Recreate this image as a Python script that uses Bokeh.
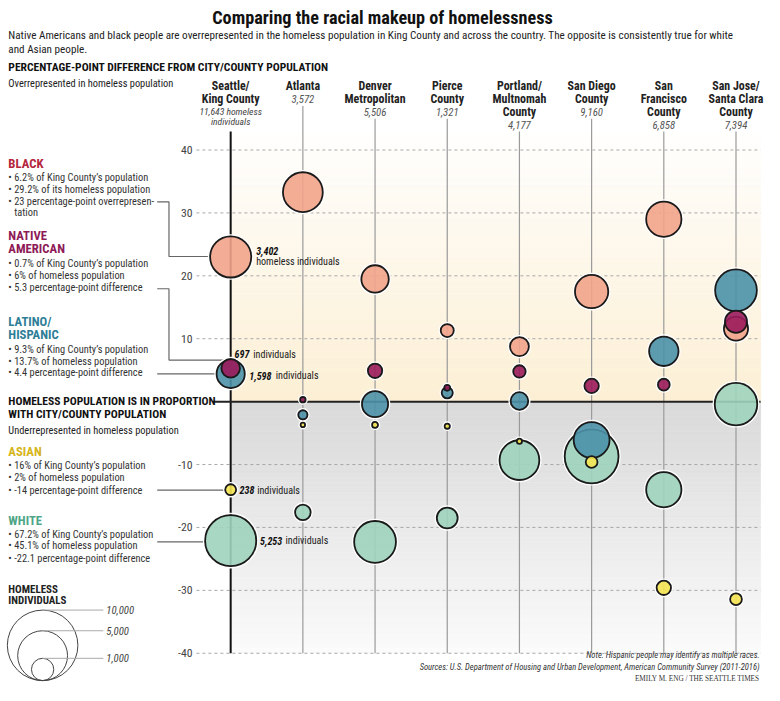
import numpy as np
from bokeh.plotting import figure
from bokeh.models import Range1d, ColumnDataSource
from bokeh.core.properties import value
from bokeh.embed import file_html
from bokeh.resources import INLINE

# ---------------- data ----------------
city_lines = [["Seattle/", "King County"], ["Atlanta"], ["Denver", "Metropolitan"],
              ["Pierce", "County"], ["Portland/", "Multnomah", "County"],
              ["San Diego", "County"], ["San", "Francisco", "County"],
              ["San Jose/", "Santa Clara", "County"]]
city_totals = ["11,643", "3,572", "5,506", "1,321", "4,177", "9,160", "6,858", "7,394"]

race_names = ["Black", "Native American", "Latino/Hispanic", "Asian", "White"]
race_colors = ["#F2A48B", "#9A1B5B", "#4B91A9", "#F6E653", "#9ED3BD"]
black_diff = [23.0, 33.3, 19.5, 11.3, 8.75, 17.5, 29.0, 11.6]
black_n = [3402, 3190, 1510, 340, 720, 2230, 2500, 1170]
native_diff = [5.3, 0.3, 4.9, 2.2, 4.8, 2.5, 2.7, 12.7]
native_n = [697, 60, 415, 70, 310, 415, 278, 985]
latino_diff = [4.4, -2.1, -0.4, 1.4, 0.1, -6.1, 8.0, 17.7]
latino_n = [1598, 170, 1370, 247, 625, 2590, 1736, 3500]
asian_diff = [-14.0, -3.7, -3.7, -3.9, -6.3, -9.6, -29.6, -31.4]
asian_n = [238, 40, 70, 55, 55, 278, 415, 278]
white_diff = [-22.1, -17.6, -22.3, -18.5, -9.3, -8.7, -14.0, -0.4]
white_n = [5253, 490, 3510, 877, 3180, 5830, 2500, 3630]

y_ticks = [40, 30, 20, 10, -10, -20, -30, -40]
y_tick_labels = ["40", "30", "20", "10", "-10", "-20", "-30", "-40"]
legend_counts = [10000, 5000, 1000]
legend_labels = ["10,000", "5,000", "1,000"]

# ---------------- style ----------------
F = "Roboto Condensed"
W, H = 764, 685
REF_W, REF_H = 780.0, 701.0
SX = W / REF_W
R10K = 36.0 * SX  # screen radius of a 10,000 bubble

# vertical scale of the chart: 0 at layout y=410.5, 6.4375 layout px per point
Y0, PPU = 410.5, 6.4375
X0, DX = 235.0, 73.7

p = figure(width=W, height=H, output_backend="svg", toolbar_location=None,
           x_range=Range1d(0, REF_W),
           y_range=Range1d((Y0 - REF_H) / PPU, Y0 / PPU),
           x_axis_type=None, y_axis_type=None, min_border=0,
           outline_line_color=None, background_fill_color="white",
           border_fill_color="white")
p.extra_x_ranges = {"col": Range1d(-X0 / DX, (REF_W - X0) / DX)}
p.extra_y_ranges = {"px": Range1d(REF_H, 0)}


def txt(xs, ys, texts, size, color="#222222", style="normal", font=F,
        align="left", baseline="middle", xr=None, yr="px"):
    kw = {}
    if xr:
        kw["x_range_name"] = xr
    if yr:
        kw["y_range_name"] = yr
    p.text(x=xs, y=ys, text=texts, text_font=value(font),
           text_font_size=value(f"{size * SX:.2f}px"), text_font_style=style,
           text_color=color, text_align=align, text_baseline=baseline, **kw)


# ---------------- background gradients ----------------
n = 50
top_edges = np.linspace(0, 44, n + 1)
cream = np.array([252, 239, 212]); white = np.array([255, 255, 255])
cols = []
for k in range(n):
    t = (k + 0.5) / n
    c = cream + (white - cream) * t
    cols.append("#%02x%02x%02x" % tuple(int(round(v)) for v in c))
p.quad(left=X0, right=776, bottom=top_edges[:-1], top=top_edges[1:],
       fill_color=cols, line_color=cols, line_width=0.6)
bot_edges = np.linspace(0, -40, n + 1)
grey = np.array([217, 217, 217]); light = np.array([251, 251, 251])
cols2 = []
for k in range(n):
    t = (k + 0.5) / n
    c = grey + (light - grey) * t
    cols2.append("#%02x%02x%02x" % tuple(int(round(v)) for v in c))
p.quad(left=X0, right=776, bottom=bot_edges[1:], top=bot_edges[:-1],
       fill_color=cols2, line_color=cols2, line_width=0.6)

# ---------------- grid ----------------
p.segment(x0=[200] * len(y_ticks), x1=[776] * len(y_ticks), y0=y_ticks, y1=y_ticks,
          line_color="#a8a8a8", line_width=1, line_dash="3 3")
txt([196] * len(y_ticks), y_ticks, y_tick_labels, 12, color="#444444",
    align="right", yr=None)

# column lines
idx = list(range(len(city_lines)))
tops = [134] + [82 + 13 * (len(c) + 1) for c in city_lines[1:]]
p.segment(x0=idx[1:], x1=idx[1:], y0=tops[1:], y1=[668] * 7, line_color="#9a9a9a",
          line_width=1.2, x_range_name="col", y_range_name="px")
p.segment(x0=[0], x1=[0], y0=[tops[0]], y1=[668], line_color="#111111",
          line_width=2, x_range_name="col", y_range_name="px")

# zero line
p.segment(x0=[217], x1=[776], y0=[0], y1=[0], line_color="#222222", line_width=2)

# connectors
p.multi_line(xs=[[160, 172, 172, 213], [160, 172, 172, 229], [160, 220],
                 [160, 229], [160, 209]],
             ys=[[206, 206, 262, 262], [295, 295, 368, 368], [382, 382],
                 [501, 501], [554, 554]],
             line_color="#666666", line_width=1.2, y_range_name="px")

# ---------------- bubbles ----------------
diffs = [black_diff, native_diff, latino_diff, asian_diff, white_diff]
counts = [black_n, native_n, latino_n, asian_n, white_n]
bx, by, bs, bc = [], [], [], []
for r in range(5):
    for i in range(8):
        bx.append(i); by.append(diffs[r][i])
        bs.append(2 * R10K * np.sqrt(counts[r][i] / 10000.0)); bc.append(race_colors[r])
order = np.argsort(bs)[::-1]
src = ColumnDataSource(dict(x=[bx[k] for k in order], y=[by[k] for k in order],
                            s=[bs[k] for k in order], c=[bc[k] for k in order],
                            h=[bs[k] + 3 for k in order]))
p.scatter(x="x", y="y", size="h", source=src, fill_color=None, line_color="white",
          line_width=1.5, x_range_name="col")
p.scatter(x="x", y="y", size="s", source=src, fill_color="c", fill_alpha=0.9,
          line_color="#1a1a1a", line_width=1.8, x_range_name="col")

# ---------------- column headers ----------------
for i, lines in enumerate(city_lines):
    ys = [88 + 13 * k for k in range(len(lines))]
    txt([i] * len(lines), ys, lines, 12.2, color="#222222", style="bold",
        align="center", xr="col")
    yl = 88 + 13 * len(lines)
    if i == 0:
        txt([i], [yl], [city_totals[i] + " homeless"], 9.8, color="#444444",
            style="italic", align="center", xr="col")
        txt([i], [yl + 10], ["individuals"], 9.8, color="#444444", style="italic",
            align="center", xr="col")
    else:
        txt([i], [yl], [city_totals[i]], 11, color="#555555", style="italic",
            align="center", xr="col")

# ---------------- titles ----------------
txt([390], [17], ["Comparing the racial makeup of homelessness"], 18.6, style="bold",
    align="center", color="#111111")
txt([8, 8], [36, 50],
    ["Native Americans and black people are overrepresented in the homeless population in King County and across the country. The opposite is consistently true for white",
     "and Asian people."], 11.4, color="#222222")
txt([8], [68], ["PERCENTAGE-POINT DIFFERENCE FROM CITY/COUNTY POPULATION"], 11.8,
    style="bold", color="#111111")
txt([8], [85], ["Overrepresented in homeless population"], 10.6, color="#222222")
txt([8, 8], [410, 423], ["HOMELESS POPULATION IS IN PROPORTION", "WITH CITY/COUNTY POPULATION"],
    11.8, style="bold", color="#111111")
txt([8], [440], ["Underrepresented in homeless population"], 10.6, color="#222222")

# race blocks
HS, BS = 13, 10.6
txt([8], [167], ["BLACK"], HS, style="bold", color="#B3263C")
txt([8, 8, 8, 14], [181, 193, 206, 217],
    ["• 6.2% of King County’s population", "• 29.2% of its homeless population",
     "• 23 percentage-point overrepresen-", "tation"], BS, color="#333333")
txt([8, 8], [241, 254], ["NATIVE", "AMERICAN"], HS, style="bold", color="#8E1B57")
txt([8, 8, 8], [269, 281, 294],
    ["• 0.7% of King County’s population", "• 6% of homeless population",
     "• 5.3 percentage-point difference"], BS, color="#333333")
txt([8, 8], [329, 342], ["LATINO/", "HISPANIC"], HS, style="bold", color="#2E7E98")
txt([8, 8, 8], [357, 369, 381],
    ["• 9.3% of King County’s population", "• 13.7% of homeless population",
     "• 4.4 percentage-point difference"], BS, color="#333333")
txt([8], [462], ["ASIAN"], HS, style="bold", color="#D6B51A")
txt([8, 8, 8], [476, 488, 501],
    ["• 16% of King County’s population", "• 2% of homeless population",
     "• -14 percentage-point difference"], BS, color="#333333")
txt([8], [532], ["WHITE"], HS, style="bold", color="#4DA685")
txt([8, 8, 8], [546, 558, 571],
    ["• 67.2% of King County’s population", "• 45.1% of homeless population",
     "• -22.1 percentage-point difference"], BS, color="#333333")

# bubble annotations
txt([261, 239, 254, 244, 265], [256, 362, 384, 501, 553],
    ["3,402", "697", "1,598", "238", "5,253"], 10.3, style="bold italic", color="#111111")
txt([261, 258, 281, 262, 291], [267, 362, 384, 501, 553],
    ["homeless individuals", "individuals", "individuals", "individuals", "individuals"],
    10.3, color="#222222")

# ---------------- size legend ----------------
txt([8, 8], [603, 614], ["HOMELESS", "INDIVIDUALS"], 11.2, style="bold", color="#222222")
lr = [R10K * np.sqrt(c / 10000.0) for c in legend_counts]
lay = REF_H / H  # layout units per screen px
p.scatter(x=[43] * 3, y=[696 - r * lay for r in lr], size=[2 * r for r in lr],
          fill_color=None, line_color="#444444", line_width=1, y_range_name="px")
p.multi_line(xs=[[43, 105]] * 3, ys=[[696 - 2 * r * lay] * 2 for r in lr],
             line_color="#aaaaaa", line_width=1, y_range_name="px")
txt([108] * 3, [696 - 2 * r * lay for r in lr], legend_labels, 11, style="italic",
    color="#444444")

# ---------------- notes ----------------
txt([775, 775], [670, 682],
    ["Note: Hispanic people may identify as multiple races.",
     "Sources: U.S. Department of Housing and Urban Development, American Community Survey (2011-2016)"],
    8.7, style="italic", align="right", color="#333333")
txt([775], [694], ["EMILY M. ENG / THE SEATTLE TIMES"], 7.4, font="Liberation Serif",
    align="right", color="#333333")

open("out.html", "w").write(file_html(p, INLINE))
